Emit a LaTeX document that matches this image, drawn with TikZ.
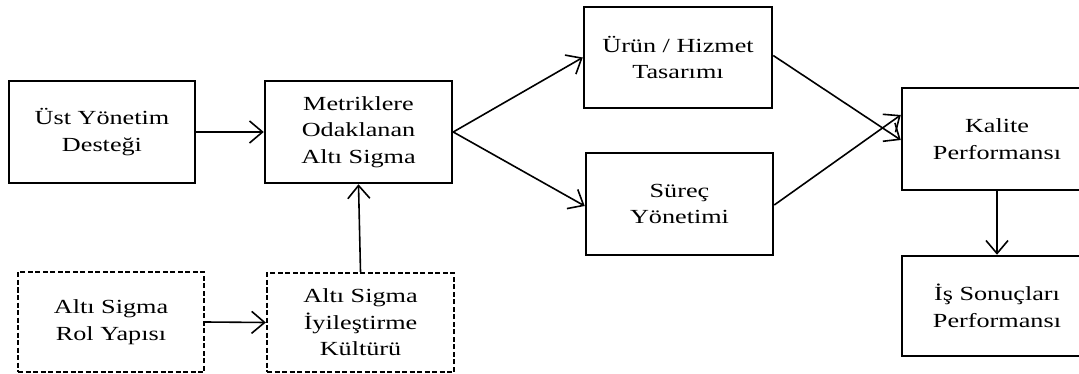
\documentclass[tikz,border=0pt]{standalone}
\usepackage{fontspec}
\setmainfont[FakeStretch=1.31]{Liberation Serif}
\usetikzlibrary{arrows.meta}
\begin{document}
\begin{tikzpicture}[x=1pt,y=-1pt,
  box/.style={draw, line width=2.5pt, align=center, inner sep=0pt,
    font=\fontsize{20}{26.5}\selectfont},
  dbox/.style={box, line width=2.3pt, dash pattern=on 5pt off 2.5pt},
  arr/.style={line width=1.6pt, -{Straight Barb[length=13pt,width=22pt,line width=1.6pt]}}]
\clip (0,0) rectangle (1079,374);
\node[box, minimum width=186pt, minimum height=102pt] (ust) at (102,132) {Üst Yönetim\\Desteği};
\node[box, minimum width=187pt, minimum height=102pt] (met) at (358.5,132) {Metriklere\\Odaklanan\\Altı Sigma};
\node[box, minimum width=188pt, minimum height=101pt] (urun) at (678,57.5) {Ürün / Hizmet\\Tasarımı};
\node[box, minimum width=187pt, minimum height=102pt] (surec) at (679.5,204) {Süreç\\Yönetimi};
\node[box, minimum width=190pt, minimum height=102pt] (kal) at (997,139) {Kalite\\Performansı};
\node[box, minimum width=190pt, minimum height=100pt] (is) at (997,306) {İş Sonuçları\\Performansı};
\node[dbox, minimum width=186pt, minimum height=100pt] (rol) at (111,322) {Altı Sigma\\Rol Yapısı};
\node[dbox, minimum width=187pt, minimum height=99pt] (kul) at (360.5,322.5) {Altı Sigma\\İyileştirme\\Kültürü};
\draw[arr] (ust.east) -- (met.west);
\draw[arr] (rol.east) -- (kul.west);
\draw[arr] (kul.north) -- (met.south);
\draw[arr] (met.east) -- (urun.west);
\draw[arr] (met.east) -- ([yshift=-2pt]surec.west);
\draw[arr] ([yshift=2pt]urun.east) -- ([yshift=-1pt]kal.west);
\draw[arr] ([yshift=-1pt]surec.east) -- ([yshift=24pt]kal.west);
\draw[arr] (kal.south) -- (is.north);
\end{tikzpicture}
\end{document}
